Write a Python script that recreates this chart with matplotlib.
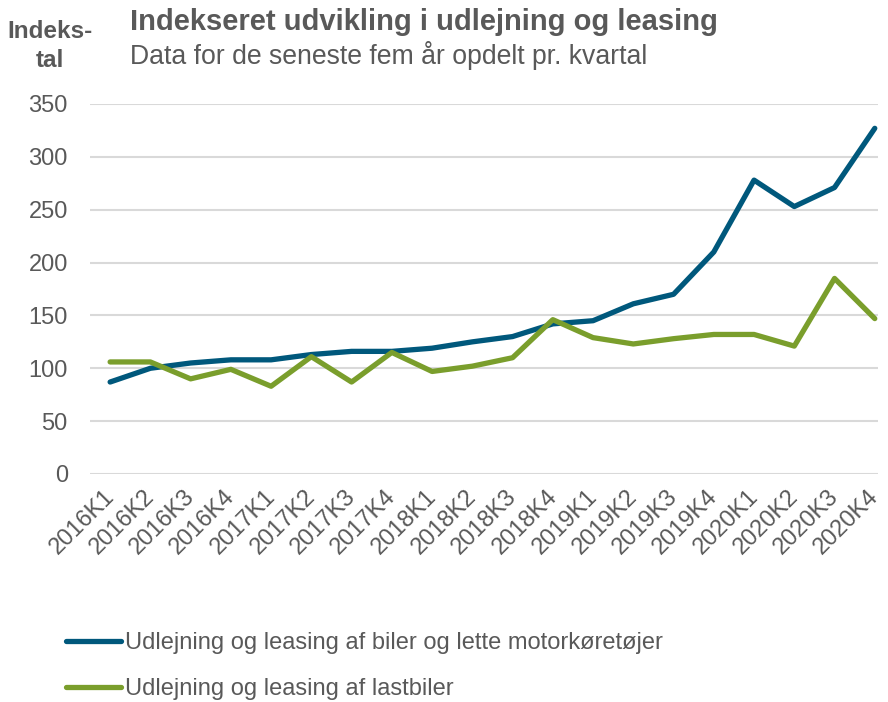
import numpy as np
import matplotlib.pyplot as plt
from matplotlib import transforms

plt.rcParams['font.family'] = ['Liberation Sans', 'DejaVu Sans']

quarters = ['2016K1', '2016K2', '2016K3', '2016K4',
            '2017K1', '2017K2', '2017K3', '2017K4',
            '2018K1', '2018K2', '2018K3', '2018K4',
            '2019K1', '2019K2', '2019K3', '2019K4',
            '2020K1', '2020K2', '2020K3', '2020K4']

biler = [87, 100, 105, 108, 108, 113, 116, 116, 119, 125,
         130, 142, 145, 161, 170, 210, 278, 253, 271, 327]
lastbiler = [106, 106, 90, 99, 83, 111, 87, 115, 97, 102,
             110, 146, 129, 123, 128, 132, 132, 121, 185, 147]

grey = '#595959'
blue = '#00587C'
green = '#7A9E2C'

fig = plt.figure(figsize=(8.88, 7.02), dpi=100)
ax = fig.add_axes([90 / 888, 1 - 474 / 702, 788 / 888, 370 / 702])

x = np.arange(len(quarters))
l1, = ax.plot(x, biler, '-', color=blue, lw=3.8, solid_capstyle='round',
              solid_joinstyle='round', label='Udlejning og leasing af biler og lette motorkøretøjer')
l2, = ax.plot(x, lastbiler, '-', color=green, lw=3.8, solid_capstyle='round',
              solid_joinstyle='round', label='Udlejning og leasing af lastbiler')

ax.set_ylim(0, 350)
ax.set_xlim(-0.5, 19.08)
ax.set_yticks(range(0, 351, 50))
ax.yaxis.grid(True, color='#d9d9d9', lw=1.5)
ax.set_axisbelow(True)
for s in ax.spines.values():
    s.set_visible(False)
ax.tick_params(length=0, labelsize=17, colors=grey)
ax.tick_params(axis='y', pad=16)
ax.set_xticks(x)
ax.set_xticklabels(quarters, rotation=45, ha='right', rotation_mode='anchor')
ax.tick_params(axis='x', pad=8)
# shift the rotated labels a little to the left
shift = transforms.ScaledTranslation(-7 / 100, 0, fig.dpi_scale_trans)
for lab in ax.get_xticklabels():
    lab.set_transform(lab.get_transform() + shift)

fig.text(130 / 888, 1 - 22 / 702, 'Indekseret udvikling i udlejning og leasing',
         fontsize=21, fontweight='bold', color=grey, va='center')
fig.text(130 / 888, 1 - 55 / 702, 'Data for de seneste fem år opdelt pr. kvartal',
         fontsize=19.2, color=grey, va='center')
fig.text(50 / 888, 1 - 46 / 702, 'Indeks-\ntal', fontsize=17.5, fontweight='bold',
         color=grey, ha='center', va='center', linespacing=1.3)

fig.legend(handles=[l1, l2], loc='upper left', bbox_to_anchor=(45 / 888, 1 - 611 / 702),
           frameon=False, fontsize=17, handlelength=2.3, handletextpad=0.2,
           labelspacing=1.0, labelcolor=grey)

fig.savefig('out.png', dpi=100)
